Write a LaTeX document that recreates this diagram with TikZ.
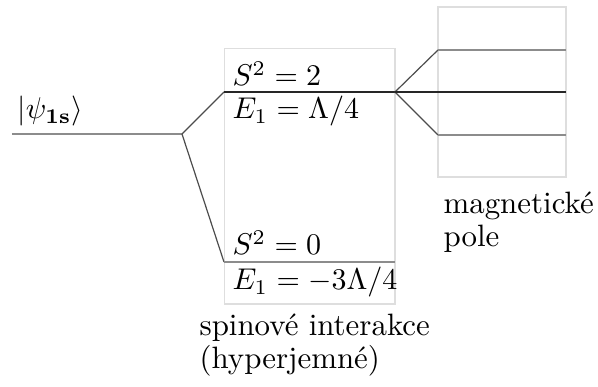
\documentclass[tikz,border=0pt]{standalone}
\usepackage{amsmath}
\begin{document}
\begin{tikzpicture}[x=0.3333pt,y=-0.3333pt,
  frame/.style={draw=black!13,line width=0.35pt},
  lvlblack/.style={draw=black!85,line width=0.45pt},
  lvlgray/.style={draw=black!45,line width=0.6pt},
  split/.style={draw=black!70,line width=0.4pt},
  lbl/.style={inner sep=0pt,anchor=base west,text=black},
  twoline/.style={align=left,font={\fontsize{10.3}{11}\selectfont}}]
\useasboundingbox (0,0) rectangle (598,387);
% frames
\draw[frame] (224.5,48.5) rectangle (395,304);
\draw[frame] (438,7) rectangle (566,177);
% coordinates
\coordinate (k0) at (12,134);
\coordinate (ks) at (182,134);
\coordinate (u0) at (224,92);
\coordinate (u1) at (395,92);
\coordinate (l0) at (224,262);
\coordinate (l1) at (395,262);
\coordinate (m1) at (438,50);
\coordinate (m1e) at (566,50);
\coordinate (m2e) at (566,92);
\coordinate (m3) at (438,135);
\coordinate (m3e) at (566,135);
% levels
\draw[lvlgray] (k0) -- (ks);
\draw[split] (ks) -- (u0);
\draw[split] (ks) -- (l0);
\draw[lvlblack] (u0) -- (u1);
\draw[lvlgray] (l0) -- (l1);
\draw[split] (u1) -- (m1);
\draw[split] (u1) -- (m3);
\draw[lvlblack] (u1) -- (m2e);
\draw[lvlgray] (m1) -- (m1e);
\draw[lvlgray] (m3) -- (m3e);
% labels
\node[lbl] (ket) at (17,119) {$\lvert\psi_{\mathbf{1s}}\rangle$};
\node[lbl] (s2a) at (232,86) {$S^2=2$};
\node[lbl] (e1a) at (232,119) {$E_1=\Lambda/4$};
\node[lbl] (s2b) at (232,255) {$S^2=0$};
\node[lbl] (e1b) at (232,290) {$E_1=-3\Lambda/4$};
\node[lbl,twoline] (spin) at (199,369) {spinové interakce\\(hyperjemné)};
\node[lbl,twoline] (mag) at (443,247) {magnetické\\pole};
\end{tikzpicture}
\end{document}
